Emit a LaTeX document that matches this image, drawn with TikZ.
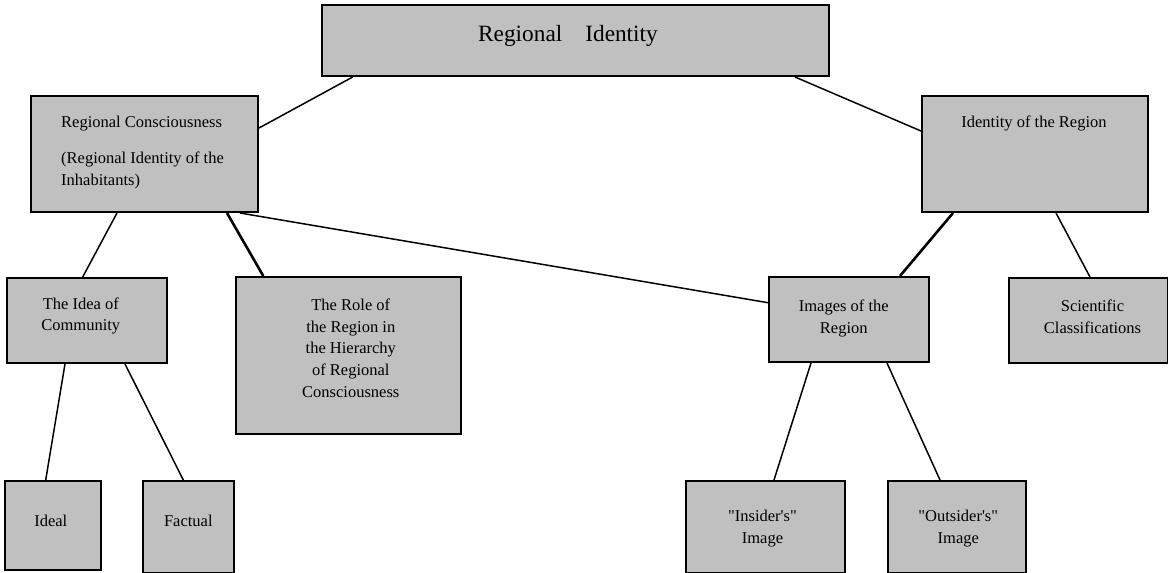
\documentclass[tikz,border=0pt]{standalone}
\usepackage{fontspec}
\setmainfont{Liberation Serif}
\begin{document}
\begin{tikzpicture}[x=1pt,y=-1pt,
  box/.style={draw=black,line width=2pt,fill=boxgray,rectangle,inner sep=0pt,anchor=north west},
  conn/.style={draw=black,line width=1.5pt},
  heavy/.style={draw=black,line width=2.6pt},
  txt/.style={inner sep=0pt,font=\fontsize{16.5}{21.6}\selectfont,align=center,anchor=base},
  ]
\definecolor{boxgray}{HTML}{C0C0C0}
\useasboundingbox (0,0) rectangle (1168,573);
% boxes
\node[box,minimum width=507pt,minimum height=71pt] (ri) at (321,4) {};
\node[box,minimum width=227pt,minimum height=116pt] (rc) at (30,95) {};
\node[box,minimum width=226pt,minimum height=116pt] (idr) at (921,95) {};
\node[box,minimum width=160pt,minimum height=85pt] (idea) at (6,277) {};
\node[box,minimum width=225pt,minimum height=157pt] (role) at (235,276) {};
\node[box,minimum width=160pt,minimum height=85pt] (img) at (768,276) {};
\node[box,minimum width=158.5pt,minimum height=85pt] (sci) at (1008,277) {};
\node[box,minimum width=96pt,minimum height=89pt] (ideal) at (4,480) {};
\node[box,minimum width=91pt,minimum height=92pt] (fact) at (142,480) {};
\node[box,minimum width=159pt,minimum height=92pt] (ins) at (685,480) {};
\node[box,minimum width=138pt,minimum height=92pt] (outs) at (887,480) {};
% texts (anchor base = baseline of the last line)
\node[txt,font=\fontsize{23.3}{26}\selectfont] (t-ri) at (568,41.7) {Regional\hspace{23pt}Identity};
\node[txt,anchor=base west] (t-rc1) at (61,127.7) {Regional Consciousness};
\node[txt,anchor=base west,align=left] (t-rc2) at (61,185) {(Regional Identity of the\\Inhabitants)};
\node[txt] (t-idr) at (1034,127) {Identity of the Region};
\node[txt] (t-idea) at (80.8,330.7) {The Idea of\\Community};
\node[txt] (t-role) at (350.8,397.1) {The Role of\\the Region in\\the Hierarchy\\of Regional\\Consciousness};
\node[txt] (t-img) at (843.8,333.3) {Images of the\\Region};
\node[txt] (t-sci) at (1092.5,333.3) {Scientific\\Classifications};
\node[txt] (t-ideal) at (50.8,526.7) {Ideal};
\node[txt] (t-fact) at (188.3,526) {Factual};
\node[txt] (t-ins) at (762.5,543.3) {\textquotedbl Insider\textquotesingle s\textquotedbl\\Image};
\node[txt] (t-outs) at (958.3,543.3) {\textquotedbl Outsider\textquotesingle s\textquotedbl\\Image};
% connectors
\draw[conn] ([xshift=31.7pt]ri.south west) -- ([yshift=-33pt]rc.north east);
\draw[conn] ([xshift=474pt]ri.south west) -- ([yshift=-36pt]idr.north west);
\draw[conn] ([xshift=87pt]rc.south west) -- ([xshift=76.7pt]idea.north west);
\draw[heavy] ([xshift=197pt]rc.south west) -- ([xshift=28.3pt]role.north west);
\draw[conn] ([xshift=210pt]rc.south west) -- ([yshift=-26.7pt]img.north west);
\draw[conn] ([xshift=59pt]idea.south west) -- ([xshift=41.7pt]ideal.north west);
\draw[conn] ([xshift=119pt]idea.south west) -- ([xshift=41.3pt]fact.north west);
\draw[heavy] ([xshift=32pt]idr.south west) -- ([xshift=132pt]img.north west);
\draw[conn] ([xshift=135pt]idr.south west) -- ([xshift=82pt]sci.north west);
\draw[conn] ([xshift=43pt]img.south west) -- ([xshift=89pt]ins.north west);
\draw[conn] ([xshift=119pt]img.south west) -- ([xshift=53pt]outs.north west);
\end{tikzpicture}
\end{document}
